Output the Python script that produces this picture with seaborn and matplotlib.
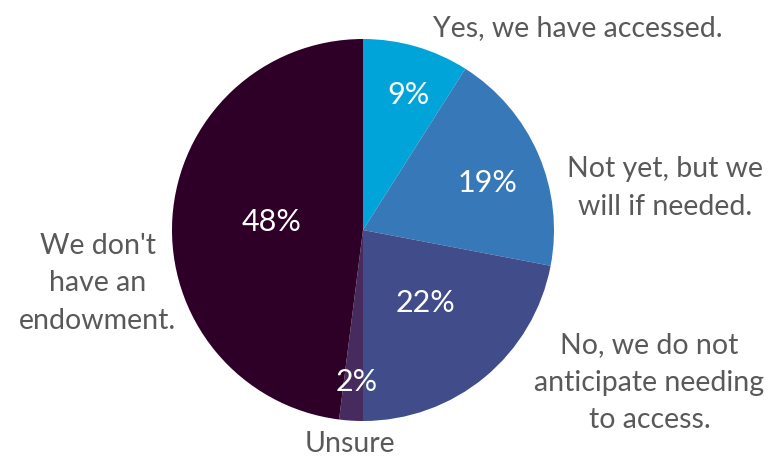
import seaborn as sns
import matplotlib.pyplot as plt

# Endowment access survey: share of responses
answers = ["Yes, we have accessed.",
           "Not yet, but we\nwill if needed.",
           "No, we do not\nanticipate needing\nto access.",
           "Unsure",
           "We don't\nhave an\nendowment."]
shares = [9, 19, 22, 2, 48]
colors = ["#00a4d8", "#3778b8", "#414c8a", "#472a5e", "#2e0028"]

# where the text sits (data units, pie radius = 1)
pct_pos = [(0.236, 0.707), (0.654, 0.246), (0.325, -0.382), (-0.031, -0.796), (-0.476, 0.042)]
label_pos = [(1.126, 1.058), (1.58, 0.22), (1.50, -0.80), (-0.07, -1.12), (-1.39, -0.28)]

sns.set_style("white")
plt.rcParams["font.family"] = ["Lato", "DejaVu Sans"]

fig = plt.figure(figsize=(7.81, 4.61), dpi=100)
r = 191
cx, cy = 363, 461 - 230
ax = fig.add_axes([(cx - r) / 781, (cy - r) / 461, 2 * r / 781, 2 * r / 461])

ax.pie(shares, colors=colors, startangle=90, counterclock=False,
       wedgeprops=dict(linewidth=0))
ax.set_xlim(-1, 1)
ax.set_ylim(-1, 1)
ax.set_aspect("equal")
ax.axis("off")

for s, (x, y) in zip(shares, pct_pos):
    ax.text(x, y, f"{s}%", color="white", fontsize=22, ha="center", va="center")

for lab, (x, y) in zip(answers, label_pos):
    ax.text(x, y, lab, color="#595959", fontsize=20.5, ha="center", va="center",
            linespacing=1.55, clip_on=False)

fig.savefig("out.png", dpi=100)
